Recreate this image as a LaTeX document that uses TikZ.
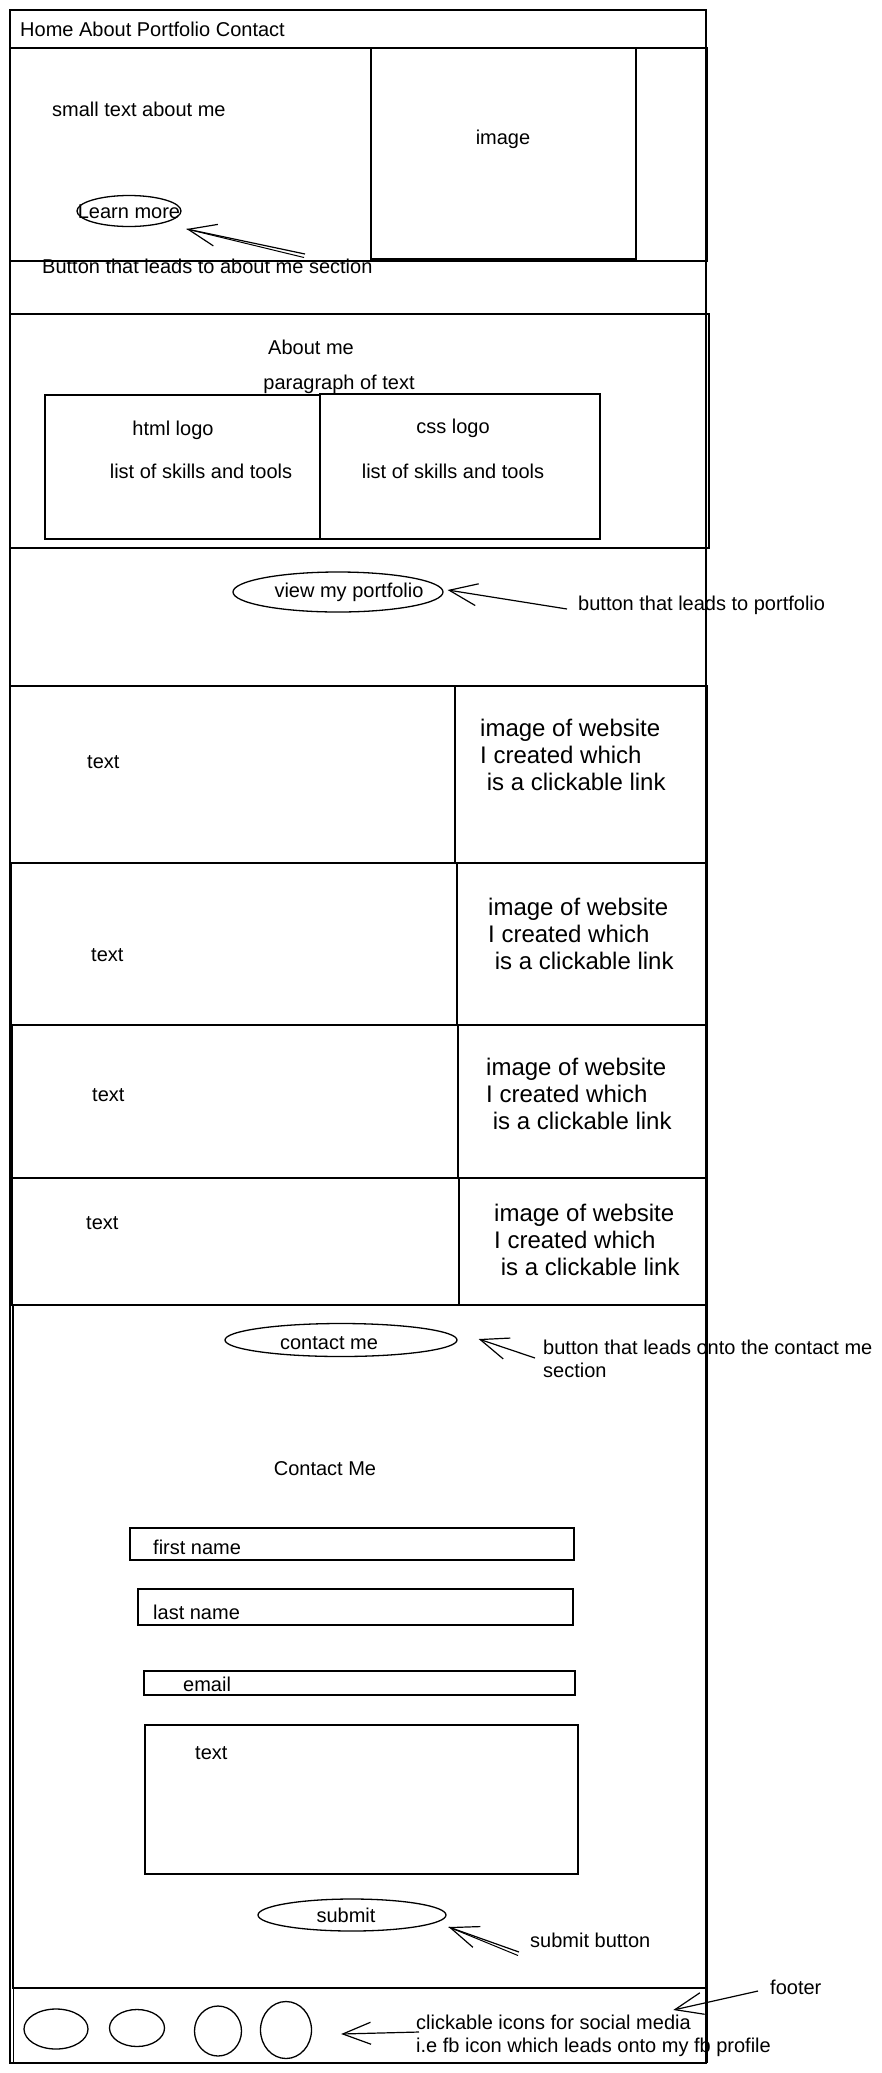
\documentclass[tikz,border=0pt]{standalone}
\usepackage{fontspec}
\setmainfont{Liberation Sans}
\usetikzlibrary{shapes.geometric,arrows.meta}
\newcommand\fnA{\fontsize{20bp}{23bp}\selectfont}
\newcommand\fnB{\fontsize{24bp}{27bp}\selectfont}
\begin{document}
\begin{tikzpicture}[x=1bp,y=-1bp,
  box/.style={line width=1.3bp},
  t/.style={inner sep=0pt, anchor=west, text height=14bp, text depth=0pt, font=\fnA},
  tc/.style={inner sep=0pt, text height=14bp, text depth=0pt, font=\fnA},
  tl/.style={inner sep=0pt, anchor=base west, font=\fnA},
  tb/.style={inner sep=0pt, anchor=base west, font=\fnB},
  btn/.style={draw, ellipse, inner sep=0pt, line width=1.3bp},
  arr/.style={-{Straight Barb[length=28bp,width=22bp]}, line width=1.2bp},
  shaft/.style={line width=1bp},
]
\useasboundingbox (0,0) rectangle (882,2073);
\fill[white] (0,0) rectangle (882,2073);

% page frame and nav
\draw[box] (10,10) rectangle (706,2063);
\draw[box] (10,48) -- (706,48);
\node[t] (nav) at (20,29) {Home About Portfolio Contact};

% hero
\draw[box] (10,48) rectangle (707,261);
\draw[box] (371,48) rectangle (636,259);
\node[t] (small) at (52,109) {small text about me};
\node[tc] (img) at (503,137) {image};
\node[btn, minimum width=104bp, minimum height=31bp] (lm) at (129,211) {};
\node[tc] (lmt) at (129,211) {Learn more};
\node[t] (lmnote) at (42,266) {Button that leads to about me section};
\coordinate (lmfrom) at (305,254);
\coordinate (lmfrom2) at (304,257.5);
\draw[arr] (lmfrom) -- ([xshift=5bp,yshift=-18bp]lm.east);
\draw[shaft] (lmfrom2) -- ([xshift=5bp,yshift=-18bp]lm.east);

% about
\draw[box] (10,314) rectangle (709,548);
\node[tc] (about) at (311,347) {About me};
\node[tc] (para) at (339,382) {paragraph of text};
\draw[box] (45,395) rectangle (320,539);
\draw[box] (320,394) rectangle (600,539);
\node[tc] (html) at (173,428) {html logo};
\node[tc] (list1) at (201,471) {list of skills and tools};
\node[tc] (css) at (453,426) {css logo};
\node[tc] (list2) at (453,471) {list of skills and tools};

% portfolio button
\node[btn, minimum width=210bp, minimum height=40bp] (vp) at (338,592) {};
\node[tc] (vpt) at (349,590) {view my portfolio};
\node[t] (vpnote) at (578,603) {button that leads to portfolio};
\coordinate (vpfrom) at (567,609);
\draw[arr] (vpfrom) -- ([xshift=4bp,yshift=2bp]vp.east);

% portfolio rows
\draw[box] (10,686) rectangle (707,863);
\draw[box] (455,686) -- (455,863);
\node[t] (r1t) at (87,761) {text};
\node[tb] (r1i) at (480,736) {\begin{tabular}[t]{@{}l@{}}image of website\\I created which\\\ is a clickable link\end{tabular}};

\draw[box] (11,863) rectangle (707,1025);
\draw[box] (457,863) -- (457,1025);
\node[t] (r2t) at (91,954) {text};
\node[tb] (r2i) at (488,915) {\begin{tabular}[t]{@{}l@{}}image of website\\I created which\\\ is a clickable link\end{tabular}};

\draw[box] (12,1025) rectangle (707,1178);
\draw[box] (458,1025) -- (458,1178);
\node[t] (r3t) at (92,1094) {text};
\node[tb] (r3i) at (486,1075) {\begin{tabular}[t]{@{}l@{}}image of website\\I created which\\\ is a clickable link\end{tabular}};

\draw[box] (12,1178) rectangle (707,1305);
\draw[box] (459,1178) -- (459,1305);
\node[t] (r4t) at (86,1222) {text};
\node[tb] (r4i) at (494,1221) {\begin{tabular}[t]{@{}l@{}}image of website\\I created which\\\ is a clickable link\end{tabular}};

% contact section
\draw[box] (13,1305) rectangle (707,1988);
\node[btn, minimum width=232bp, minimum height=33bp] (cm) at (341,1340) {};
\node[tc] (cmt) at (329,1342) {contact me};
\node[tl] (cmnote) at (543,1354) {\begin{tabular}[t]{@{}l@{}}button that leads onto the contact me\\section\end{tabular}};
\coordinate (cmfrom) at (535,1358);
\draw[arr] (cmfrom) -- ([xshift=21bp,yshift=1bp]cm.east);

\node[tc] (cme) at (325,1468) {Contact Me};
\draw[box] (130,1528) rectangle (574,1560);
\node[t] (fn) at (153,1547) {first name};
\draw[box] (138,1589) rectangle (573,1625);
\node[t] (ln) at (153,1612) {last name};
\draw[box] (144,1671) rectangle (575,1695);
\node[t] (em) at (183,1684) {email};
\draw[box] (145,1725) rectangle (578,1874);
\node[t] (msg) at (195,1752) {text};

\node[btn, minimum width=188bp, minimum height=32bp] (sb) at (352,1915) {};
\node[tc] (sbt) at (346,1915) {submit};
\node[t] (sbnote) at (530,1940) {submit button};
\coordinate (sbfrom) at (519,1952);
\coordinate (sbfrom2) at (518,1955.5);
\draw[arr] (sbfrom) -- ([xshift=2bp,yshift=-12bp]sb.east);
\draw[shaft] (sbfrom2) -- ([xshift=2bp,yshift=-12bp]sb.east);

% footer
\node[draw, line width=1.3bp, inner sep=0pt, minimum width=694bp, minimum height=74bp, anchor=north west] (footbox) at (13,1988) {};
\node[btn, minimum width=64bp, minimum height=40bp] (i1) at (56,2029) {};
\node[btn, minimum width=55bp, minimum height=37bp] (i2) at (137,2028) {};
\node[btn, minimum width=47bp, minimum height=50bp] (i3) at (218,2031) {};
\node[btn, minimum width=51bp, minimum height=57bp] (i4) at (286,2030) {};
\node[tl] (icnote) at (416,2029) {\begin{tabular}[t]{@{}l@{}}clickable icons for social media\\i.e fb icon which leads onto my fb profile\end{tabular}};
\coordinate (icfrom) at (419,2032);
\draw[arr] (icfrom) -- ([xshift=29bp,yshift=-4bp]i4.east);

\node[t] (ftlabel) at (770,1987) {footer};
\draw[arr] ([xshift=-12bp,yshift=-4bp]ftlabel.west) -- ([xshift=-35bp,yshift=-22bp]footbox.north east);
\end{tikzpicture}
\end{document}
